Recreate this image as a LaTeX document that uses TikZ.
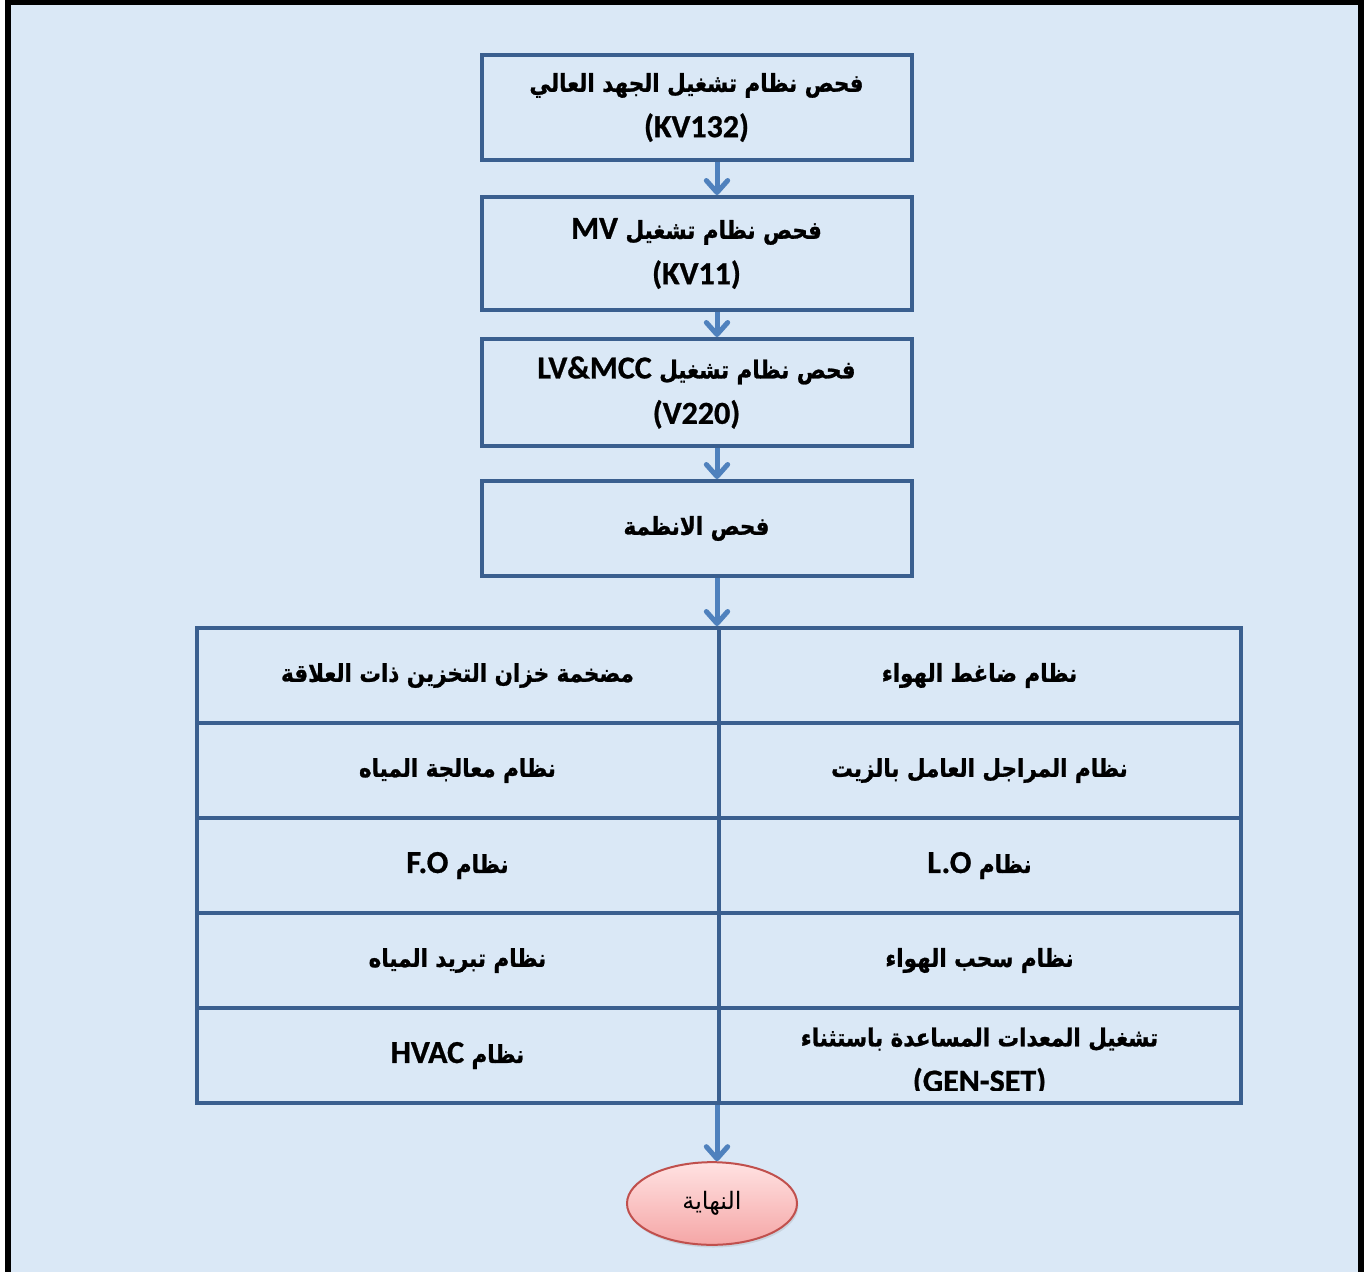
\documentclass[tikz,border=0pt]{standalone}
\usepackage{fontspec}
\usetikzlibrary{arrows.meta,shapes.geometric,shadows}
\TeXXeTstate=1
\newfontfamily\arb[Script=Arabic, FakeStretch=0.87, FakeBold=1]{DejaVu Sans}
\newfontfamily\arbplain[Script=Arabic]{DejaVu Sans}
\newfontfamily\lat[FakeBold=0.8]{Carlito}

\definecolor{paper}{RGB}{218,232,246}
\definecolor{frameblue}{RGB}{58,95,143}
\definecolor{flowblue}{RGB}{79,129,189}
\definecolor{endtop}{RGB}{255,226,226}
\definecolor{endbottom}{RGB}{245,166,166}
\definecolor{endline}{RGB}{192,80,77}

% Arabic text (right to left) and Latin text helpers
\newcommand\artx[1]{{\arb\bfseries\fontsize{18.5}{34}\selectfont\beginR #1\endR}}
\newcommand\latx[1]{{\lat\bfseries\fontsize{24}{34}\selectfont #1}}

\tikzset{
  stepbox/.style={draw=frameblue, line width=3pt, rectangle, minimum width=322.5pt,
    inner sep=0pt, align=center, font=\fontsize{18.5}{34}\selectfont},
  cell/.style={draw=frameblue, line width=3pt, rectangle, minimum width=391.5pt,
    minimum height=71.25pt, inner sep=0pt, align=center, font=\fontsize{18.5}{34}\selectfont},
  flow/.style={draw=flowblue, line width=3.75pt,
    -{Straight Barb[length=9pt,width=16pt,line cap=round,line join=round]}},
  endnode/.style={ellipse, draw=endline, line width=1.5pt, top color=endtop,
    bottom color=endbottom, minimum width=127.5pt, minimum height=62pt,
    drop shadow={opacity=0.2, shadow xshift=1pt, shadow yshift=-2pt}},
}

\begin{document}
\begin{tikzpicture}[x=0.75pt, y=-0.75pt]
  \useasboundingbox (0,0) rectangle (1365,1272);
  % page background and frame
  \fill[white] (0,0) rectangle (1365,1272);
  \fill[paper] (8,1.5) rectangle (1361,1272);
  \draw[black, line width=4.5pt] (8,1272) -- (8,1.5) -- (1361,1.5) -- (1361,1272);

  % flow axis
  \coordinate (axis) at (717,0);

  % sequential checks
  \node[stepbox, minimum height=78.75pt] (b1) at (696.5,107.5)
    {\artx{فحص نظام تشغيل الجهد العالي}\\ \latx{(KV132)}};
  \node[stepbox, minimum height=84.75pt] (b2) at (696.5,253.5)
    {\artx{فحص نظام تشغيل \beginL\latx{MV}\endL}\\ \latx{(KV11)}};
  \node[stepbox, minimum height=80.25pt] (b3) at (696.5,392.5)
    {\artx{فحص نظام تشغيل \beginL\latx{LV\&MCC}\endL}\\ \latx{(V220)}};
  \node[stepbox, minimum height=71.25pt] (b4) at (696.5,528.5)
    {\artx{فحص الانظمة}};

  % systems table: clipped text of the last right-hand cell
  \begin{scope}
    \clip (720,1010) rectangle (1239,1090);
    \node[align=center, font=\fontsize{18.5}{34}\selectfont] (genset) at (979.5,1062)
      {\artx{تشغيل المعدات المساعدة باستثناء}\\ \latx{(GEN-SET)}};
  \end{scope}

  \node[cell] (l1) at (457.5,675.5) {\artx{مضخمة خزان التخزين ذات العلاقة}};
  \node[cell] (r1) at (979.5,675.5) {\artx{نظام ضاغط الهواء}};
  \node[cell] (l2) at (457.5,770.5) {\artx{نظام معالجة المياه}};
  \node[cell] (r2) at (979.5,770.5) {\artx{نظام المراجل العامل بالزيت}};
  \node[cell] (l3) at (457.5,865.5) {\artx{نظام \beginL\latx{F.O}\endL}};
  \node[cell] (r3) at (979.5,865.5) {\artx{نظام \beginL\latx{L.O}\endL}};
  \node[cell] (l4) at (457.5,960.5) {\artx{نظام تبريد المياه}};
  \node[cell] (r4) at (979.5,960.5) {\artx{نظام سحب الهواء}};
  \node[cell] (l5) at (457.5,1055.5) {\artx{نظام \beginL\latx{HVAC}\endL}};
  \node[cell] (r5) at (979.5,1055.5) {};

  % end terminal
  \node[endnode] (end) at (712,1203.5)
    {{\arbplain\fontsize{18}{20}\selectfont\beginR النهاية\endR}};

  % connectors
  \draw[flow] (axis |- b1.south) -- (axis |- b2.north);
  \draw[flow] (axis |- b2.south) -- (axis |- b3.north);
  \draw[flow] (axis |- b3.south) -- (axis |- b4.north);
  \draw[flow] (axis |- b4.south) -- (axis |- l1.north);
  \draw[flow] (axis |- l5.south) -- (axis |- end.north);
\end{tikzpicture}
\end{document}
